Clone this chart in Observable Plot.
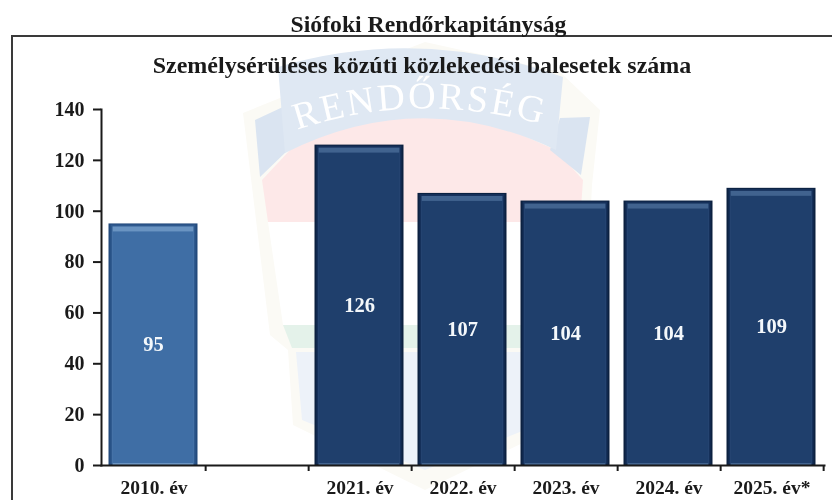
<!DOCTYPE html>
<html><head><meta charset="utf-8">
<script src="https://cdn.jsdelivr.net/npm/d3@7"></script>
<script src="https://cdn.jsdelivr.net/npm/@observablehq/plot@0.6"></script>
<style>
html,body{margin:0;padding:0;background:#fff;width:832px;height:500px;overflow:hidden}
#page{position:relative;width:832px;height:500px;font-family:"Liberation Serif",serif;font-weight:bold;color:#1a1a1a;filter:blur(.5px)}
#page>*{position:absolute}
#frame{left:11px;top:35px;width:830px;height:480px;border-left:2px solid #3a3a3a;border-top:2px solid #3a3a3a}
#t1{left:0;width:857px;top:12px;text-align:center;font-size:23.7px;line-height:24px;white-space:nowrap}
#t2{left:0;width:844px;top:53px;text-align:center;font-size:24px;line-height:24px;white-space:nowrap}
#wm{left:0;top:0}
#chart{left:0;top:0}
#chart svg{background:transparent;display:block}
</style></head><body>
<div id="page">
<svg id="wm" width="832" height="500">
  <path d="M243 113 L285 96 L425 42 L560 72 L600 110 L592 185 L585 330 L565 345 L560 425 L425 490 L293 425 L288 350 L270 335 Z" fill="#fbfaf5"/>
  <path d="M262 180 L583 180 L580 222 L268 222 Z" fill="#fde8e8"/>
  <path d="M290 150 L370 112 L470 112 L556 150 L583 180 L262 180 Z" fill="#fde8e8"/>
  <path d="M268 222 L580 222 L568 325 L283 325 Z" fill="#ffffff"/>
  <path d="M283 325 L568 325 L560 348 L292 348 Z" fill="#e4f2ea"/>
  <path d="M296 352 L556 352 L550 420 L425 470 L302 420 Z" fill="#edf2f9"/>
  <path d="M255 120 L285 106 L288 150 L260 177 Z" fill="#dae4f1"/>
  <path d="M560 118 L590 117 L581 175 L550 150 Z" fill="#dae4f1"/>
  <path d="M278 67 Q420 25 563 77 L556 150 Q420 85 285 153 Z" fill="#dfe8f3"/>
  <path id="arc" d="M297 130 Q420 88 556 128" fill="none"/>
  <text font-family="Liberation Serif" font-size="38" font-weight="normal" fill="#fff" letter-spacing="2.5"><textPath href="#arc" startOffset="0">RENDŐRSÉG</textPath></text>
</svg>
<div id="frame"></div>
<div id="t1">Siófoki Rendőrkapitányság</div>
<div id="t2">Személysérüléses közúti közlekedési balesetek száma</div>
<div id="chart"></div>
</div>
<script>
const categories = ["2010. év", " ", "2021. év", "2022. év", "2023. év", "2024. év", "2025. év*"];
const years = ["2010. év", "2021. év", "2022. év", "2023. év", "2024. év", "2025. év*"];
const counts = [95, 126, 107, 104, 104, 109];
const yTicks = [0, 20, 40, 60, 80, 100, 120, 140];
const bars = years.map((c, i) => ({c, v: counts[i]}));
const oldBars = bars.filter(b => b.c === "2010. év");
const newBars = bars.filter(b => b.c !== "2010. év");
const ink = "#1a1a1a";
function bevel(data, edge, side, top, body) {
  const L = 6.5, R = 7.5;
  const base = {x: "c", y: "v"};
  return [
    Plot.barY(data, {...base, fill: edge, insetLeft: L, insetRight: R}),
    Plot.barY(data, {...base, fill: side, insetLeft: L + 2, insetRight: R + 2, insetTop: 1, insetBottom: 1}),
    Plot.barY(data, {...base, fill: top, insetLeft: L + 4, insetRight: R + 4, insetTop: 3}),
    Plot.barY(data, {...base, fill: body, insetLeft: L + 4, insetRight: R + 4, insetTop: 8, insetBottom: 2})
  ];
}
const chart = Plot.plot({
  width: 832, height: 500,
  marginLeft: 101, marginRight: 8, marginTop: 109, marginBottom: 35,
  style: {fontFamily: "Liberation Serif", fontWeight: "bold", color: ink, background: "transparent"},
  x: {domain: categories, padding: 0, label: null},
  y: {domain: [0, 140], label: null},
  marks: [
    bevel(oldBars, "#234a7c", "#2f5a8f", "#6a94c2", "#3f6ea5"),
    bevel(newBars, "#0c2140", "#15305a", "#41638f", "#1f3f6c"),
    Plot.axisY({ticks: yTicks, tickSize: 8, tickPadding: 9, fontSize: 20, stroke: ink, strokeWidth: 2, label: null, tickFormat: d => d}),
    Plot.axisX({tickSize: 6, strokeWidth: 2, stroke: ink, dx: 51.65, tickFormat: () => "", label: null}),
    Plot.axisX({tickSize: 0, tickPadding: 15, fontSize: 19.5, fill: ink, label: null, tickFormat: d => d}),
    Plot.frame({anchor: "left", stroke: ink, strokeWidth: 2}),
    Plot.frame({anchor: "bottom", stroke: ink, strokeWidth: 2}),
    Plot.text(bars, {x: "c", y: d => d.v / 2, text: d => String(d.v), fill: "#f4f8fb", fontSize: 20.5, dx: -0.5})
  ]
});
document.getElementById("chart").append(chart);
</script>
</body></html>
